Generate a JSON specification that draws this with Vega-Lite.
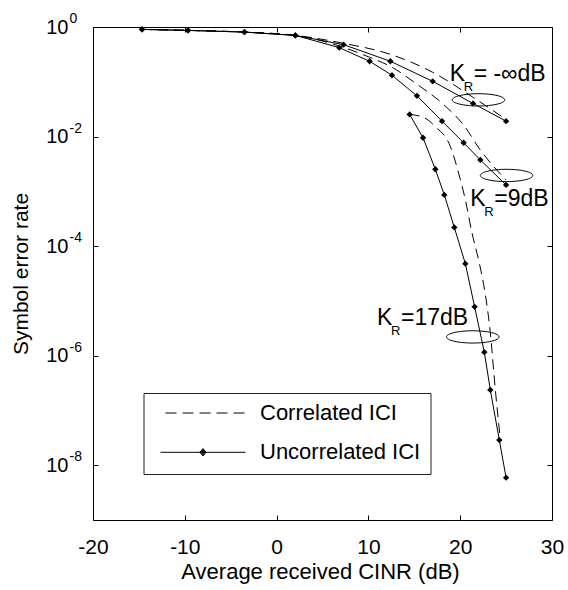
{
  "$schema": "https://vega.github.io/schema/vega-lite/v6.json",
  "width": 459,
  "height": 493,
  "autosize": {"type": "none"},
  "padding": {"left": 93, "top": 27, "right": 16, "bottom": 70},
  "background": "white",
  "datasets": {
    "curves": [
      {"x": -14.66, "ser": 0.904, "kr": "-inf", "type": "Uncorrelated ICI"},
      {"x": -9.65, "ser": 0.867, "kr": "-inf", "type": "Uncorrelated ICI"},
      {"x": -3.5, "ser": 0.808, "kr": "-inf", "type": "Uncorrelated ICI"},
      {"x": 2.04, "ser": 0.703, "kr": "-inf", "type": "Uncorrelated ICI"},
      {"x": 7.3, "ser": 0.476, "kr": "-inf", "type": "Uncorrelated ICI"},
      {"x": 12.39, "ser": 0.237, "kr": "-inf", "type": "Uncorrelated ICI"},
      {"x": 17.0, "ser": 0.102, "kr": "-inf", "type": "Uncorrelated ICI"},
      {"x": 21.4, "ser": 0.0402, "kr": "-inf", "type": "Uncorrelated ICI"},
      {"x": 25.0, "ser": 0.0191, "kr": "-inf", "type": "Uncorrelated ICI"},
      {"x": -14.66, "ser": 0.904, "kr": "9", "type": "Uncorrelated ICI"},
      {"x": -9.65, "ser": 0.867, "kr": "9", "type": "Uncorrelated ICI"},
      {"x": -3.5, "ser": 0.808, "kr": "9", "type": "Uncorrelated ICI"},
      {"x": 2.04, "ser": 0.703, "kr": "9", "type": "Uncorrelated ICI"},
      {"x": 6.83, "ser": 0.42, "kr": "9", "type": "Uncorrelated ICI"},
      {"x": 10.13, "ser": 0.237, "kr": "9", "type": "Uncorrelated ICI"},
      {"x": 12.57, "ser": 0.1316, "kr": "9", "type": "Uncorrelated ICI"},
      {"x": 15.29, "ser": 0.0553, "kr": "9", "type": "Uncorrelated ICI"},
      {"x": 18.02, "ser": 0.0191, "kr": "9", "type": "Uncorrelated ICI"},
      {"x": 20.37, "ser": 0.00771, "kr": "9", "type": "Uncorrelated ICI"},
      {"x": 22.19, "ser": 0.00374, "kr": "9", "type": "Uncorrelated ICI"},
      {"x": 25.0, "ser": 0.00131, "kr": "9", "type": "Uncorrelated ICI"},
      {"x": 14.49, "ser": 0.02535, "kr": "17", "type": "Uncorrelated ICI"},
      {"x": 15.95, "ser": 0.00951, "kr": "17", "type": "Uncorrelated ICI"},
      {"x": 17.29, "ser": 0.00253, "kr": "17", "type": "Uncorrelated ICI"},
      {"x": 18.27, "ser": 0.000861, "kr": "17", "type": "Uncorrelated ICI"},
      {"x": 19.36, "ser": 0.000219, "kr": "17", "type": "Uncorrelated ICI"},
      {"x": 20.56, "ser": 0.0000478, "kr": "17", "type": "Uncorrelated ICI"},
      {"x": 21.57, "ser": 0.0000078, "kr": "17", "type": "Uncorrelated ICI"},
      {"x": 22.63, "ser": 0.00000116, "kr": "17", "type": "Uncorrelated ICI"},
      {"x": 23.28, "ser": 0.000000237, "kr": "17", "type": "Uncorrelated ICI"},
      {"x": 24.26, "ser": 0.0000000288, "kr": "17", "type": "Uncorrelated ICI"},
      {"x": 25.0, "ser": 0.00000000593, "kr": "17", "type": "Uncorrelated ICI"},
      {"x": -14.66, "ser": 0.904, "kr": "-inf", "type": "Correlated ICI"},
      {"x": -9.65, "ser": 0.867, "kr": "-inf", "type": "Correlated ICI"},
      {"x": -3.5, "ser": 0.808, "kr": "-inf", "type": "Correlated ICI"},
      {"x": 2.04, "ser": 0.703, "kr": "-inf", "type": "Correlated ICI"},
      {"x": 7.3, "ser": 0.503, "kr": "-inf", "type": "Correlated ICI"},
      {"x": 12.4, "ser": 0.317, "kr": "-inf", "type": "Correlated ICI"},
      {"x": 17.0, "ser": 0.149, "kr": "-inf", "type": "Correlated ICI"},
      {"x": 21.4, "ser": 0.052, "kr": "-inf", "type": "Correlated ICI"},
      {"x": 25.0, "ser": 0.0205, "kr": "-inf", "type": "Correlated ICI"},
      {"x": -14.66, "ser": 0.904, "kr": "9", "type": "Correlated ICI"},
      {"x": -9.65, "ser": 0.867, "kr": "9", "type": "Correlated ICI"},
      {"x": -3.5, "ser": 0.808, "kr": "9", "type": "Correlated ICI"},
      {"x": 2.04, "ser": 0.703, "kr": "9", "type": "Correlated ICI"},
      {"x": 6.83, "ser": 0.45, "kr": "9", "type": "Correlated ICI"},
      {"x": 10.13, "ser": 0.28, "kr": "9", "type": "Correlated ICI"},
      {"x": 12.57, "ser": 0.184, "kr": "9", "type": "Correlated ICI"},
      {"x": 15.29, "ser": 0.0902, "kr": "9", "type": "Correlated ICI"},
      {"x": 18.02, "ser": 0.0407, "kr": "9", "type": "Correlated ICI"},
      {"x": 20.37, "ser": 0.0162, "kr": "9", "type": "Correlated ICI"},
      {"x": 22.19, "ser": 0.00568, "kr": "9", "type": "Correlated ICI"},
      {"x": 25.0, "ser": 0.00161, "kr": "9", "type": "Correlated ICI"},
      {"x": 14.49, "ser": 0.02535, "kr": "17", "type": "Correlated ICI"},
      {"x": 16.0, "ser": 0.0224, "kr": "17", "type": "Correlated ICI"},
      {"x": 17.3, "ser": 0.0151, "kr": "17", "type": "Correlated ICI"},
      {"x": 18.94, "ser": 0.00652, "kr": "17", "type": "Correlated ICI"},
      {"x": 19.83, "ser": 0.00214, "kr": "17", "type": "Correlated ICI"},
      {"x": 20.56, "ser": 0.0007, "kr": "17", "type": "Correlated ICI"},
      {"x": 21.29, "ser": 0.000173, "kr": "17", "type": "Correlated ICI"},
      {"x": 22.0, "ser": 0.000056, "kr": "17", "type": "Correlated ICI"},
      {"x": 22.55, "ser": 0.00002, "kr": "17", "type": "Correlated ICI"},
      {"x": 23.28, "ser": 0.00000263, "kr": "17", "type": "Correlated ICI"},
      {"x": 23.82, "ser": 0.000000245, "kr": "17", "type": "Correlated ICI"},
      {"x": 24.35, "ser": 0.000000032, "kr": "17", "type": "Correlated ICI"}
    ],
    "ellipses": [
      {"x": 21.99, "ser": 0.0468},
      {"x": 25.05, "ser": 0.00195},
      {"x": 21.37, "ser": 0.0000022}
    ],
    "labels": [
      {"x": 18.85, "ser": 0.1036, "k": "K", "sub": "R", "rest": "= -∞dB"},
      {"x": 21.1, "ser": 0.000543, "k": "K", "sub": "R", "rest": "=9dB"},
      {"x": 10.94, "ser": 0.00000356, "k": "K", "sub": "R", "rest": "=17dB"}
    ]
  },
  "layer": [
    {
      "data": {"name": "curves"},
      "transform": [{"filter": "datum.type === 'Uncorrelated ICI'"}],
      "mark": {"type": "line", "color": "black", "strokeWidth": 1},
      "encoding": {
        "x": {"field": "x", "type": "quantitative", "scale": {"domain": [-20, 30], "nice": false, "zero": false},
          "axis": {"orient": "bottom", "values": [-20, -10, 0, 10, 20, 30], "tickSize": -5, "labelPadding": 21.7, "labelFontSize": 21, "labelExpr": "'' + datum.value", "title": "Average received CINR (dB)", "titleFontSize": 22, "titleX": 227, "titleY": 41, "titleBaseline": "top", "titleAlign": "center", "titleAnchor": null}},
        "y": {"field": "ser", "type": "quantitative", "scale": {"type": "log", "domain": [1e-9, 1], "nice": false},
          "axis": {"orient": "left", "values": [1e-8, 1e-6, 1e-4, 1e-2, 1], "tickSize": -5, "labelPadding": 30, "labelFontSize": 20, "labelAlign": "right", "labelBaseline": "middle", "labelExpr": "'10'", "title": "Symbol error rate", "titleFontSize": 21, "titleX": -72, "titleY": 246.5, "titleAngle": -90, "titleBaseline": "middle", "titleAlign": "center", "titleAnchor": null}},
        "detail": {"field": "kr", "type": "nominal"}
      }
    },
    {
      "data": {"name": "curves"},
      "transform": [{"filter": "datum.type === 'Correlated ICI'"}],
      "mark": {"type": "line", "color": "black", "strokeWidth": 1, "strokeDash": [10, 6], "interpolate": "monotone"},
      "encoding": {
        "x": {"field": "x", "type": "quantitative", "scale": {"domain": [-20, 30], "nice": false, "zero": false},
          "axis": {"orient": "top", "values": [-20, -10, 0, 10, 20, 30], "tickSize": -5, "labels": false, "title": null}},
        "y": {"field": "ser", "type": "quantitative", "scale": {"type": "log", "domain": [1e-9, 1], "nice": false},
          "axis": {"orient": "right", "values": [1e-8, 1e-6, 1e-4, 1e-2, 1], "tickSize": -5, "labels": false, "title": null}},
        "detail": {"field": "kr", "type": "nominal"}
      }
    },
    {
      "data": {"name": "curves"},
      "transform": [{"filter": "datum.type === 'Uncorrelated ICI'"}],
      "mark": {"type": "point", "shape": "diamond", "filled": true, "color": "black", "size": 40, "opacity": 1},
      "encoding": {
        "x": {"field": "x", "type": "quantitative", "scale": {"domain": [-20, 30], "nice": false, "zero": false}, "axis": null},
        "y": {"field": "ser", "type": "quantitative", "scale": {"type": "log", "domain": [1e-9, 1], "nice": false},
          "axis": {"orient": "left", "values": [1e-8, 1e-6, 1e-4, 1e-2, 1], "ticks": false, "labelPadding": 24, "labelOffset": -8.5, "labelFontSize": 14, "labelAlign": "left", "labelBaseline": "middle", "labelExpr": "'' + round(log(datum.value) / LN10)", "title": null}}
      }
    },
    {
      "data": {"name": "curves"},
      "transform": [{"filter": "false"}],
      "mark": {"type": "point", "filled": false, "color": "black", "opacity": 1},
      "encoding": {
        "shape": {"field": "type", "type": "nominal",
          "scale": {"domain": ["Correlated ICI", "Uncorrelated ICI"],
            "range": ["M-0.882,0L-0.623,0M-0.482,0L-0.223,0M-0.082,0L0.177,0M0.318,0L0.577,0M0.718,0L0.977,0",
                      "M-1,0L1,0M-0.075,0L0,-0.085L0.075,0L0,0.085Z M-0.05,0L0,-0.057L0.05,0L0,0.057Z M-0.025,0L0,-0.03L0.025,0L0,0.03Z M0,-0.085L0,0.085"]},
          "legend": {"orient": "none", "legendX": 50.5, "legendY": 366, "title": null, "padding": 10,
            "strokeColor": "#222", "fillColor": "white", "clipHeight": 20, "rowPadding": 17.3,
            "symbolOffset": 6.5, "labelOffset": 14, "labelFontSize": 22, "labelFont": "Liberation Sans",
            "labelColor": "black", "labelLimit": 400, "symbolSize": 7225, "symbolStrokeWidth": 1,
            "symbolStrokeColor": "black",
            "encode": {
              "legend": {"update": {"strokeWidth": {"value": 1.4}}},
              "symbols": {"update": {"stroke": {"value": "black"}, "strokeWidth": {"value": 1}, "opacity": {"value": 1}, "size": {"value": 7225}}}}}
        }
      }
    },
    {
      "data": {"name": "ellipses"},
      "mark": {"type": "point", "shape": "M-1,0A1,0.234,0,1,1,1,0A1,0.234,0,1,1,-1,0Z", "size": 2756, "filled": false, "color": "black", "strokeWidth": 1, "opacity": 1},
      "encoding": {
        "x": {"field": "x", "type": "quantitative", "scale": {"domain": [-20, 30], "nice": false, "zero": false}, "axis": null},
        "y": {"field": "ser", "type": "quantitative", "scale": {"type": "log", "domain": [1e-9, 1], "nice": false}, "axis": null}
      }
    },
    {
      "data": {"name": "labels"},
      "mark": {"type": "text", "align": "left", "baseline": "alphabetic", "fontSize": 23, "font": "Liberation Sans", "color": "black"},
      "encoding": {
        "x": {"field": "x", "type": "quantitative", "scale": {"domain": [-20, 30], "nice": false, "zero": false}, "axis": null},
        "y": {"field": "ser", "type": "quantitative", "scale": {"type": "log", "domain": [1e-9, 1], "nice": false}, "axis": null},
        "text": {"field": "k"}
      }
    },
    {
      "data": {"name": "labels"},
      "mark": {"type": "text", "align": "left", "baseline": "alphabetic", "fontSize": 13, "font": "Liberation Sans", "color": "black", "dx": 14, "dy": 10},
      "encoding": {
        "x": {"field": "x", "type": "quantitative", "scale": {"domain": [-20, 30], "nice": false, "zero": false}, "axis": null},
        "y": {"field": "ser", "type": "quantitative", "scale": {"type": "log", "domain": [1e-9, 1], "nice": false}, "axis": null},
        "text": {"field": "sub"}
      }
    },
    {
      "data": {"name": "labels"},
      "mark": {"type": "text", "align": "left", "baseline": "alphabetic", "fontSize": 23, "font": "Liberation Sans", "color": "black", "dx": 24},
      "encoding": {
        "x": {"field": "x", "type": "quantitative", "scale": {"domain": [-20, 30], "nice": false, "zero": false}, "axis": null},
        "y": {"field": "ser", "type": "quantitative", "scale": {"type": "log", "domain": [1e-9, 1], "nice": false}, "axis": null},
        "text": {"field": "rest"}
      }
    }
  ],
  "resolve": {"axis": {"x": "independent", "y": "independent"}},
  "config": {
    "view": {"stroke": "black", "strokeWidth": 1},
    "font": "Liberation Sans",
    "axis": {"grid": false, "domain": false, "tickColor": "black", "labelColor": "black", "titleColor": "black", "titleFontWeight": "normal", "labelFont": "Liberation Sans", "titleFont": "Liberation Sans", "labelOverlap": false, "labelFlush": false, "labelBound": false}
  }
}
